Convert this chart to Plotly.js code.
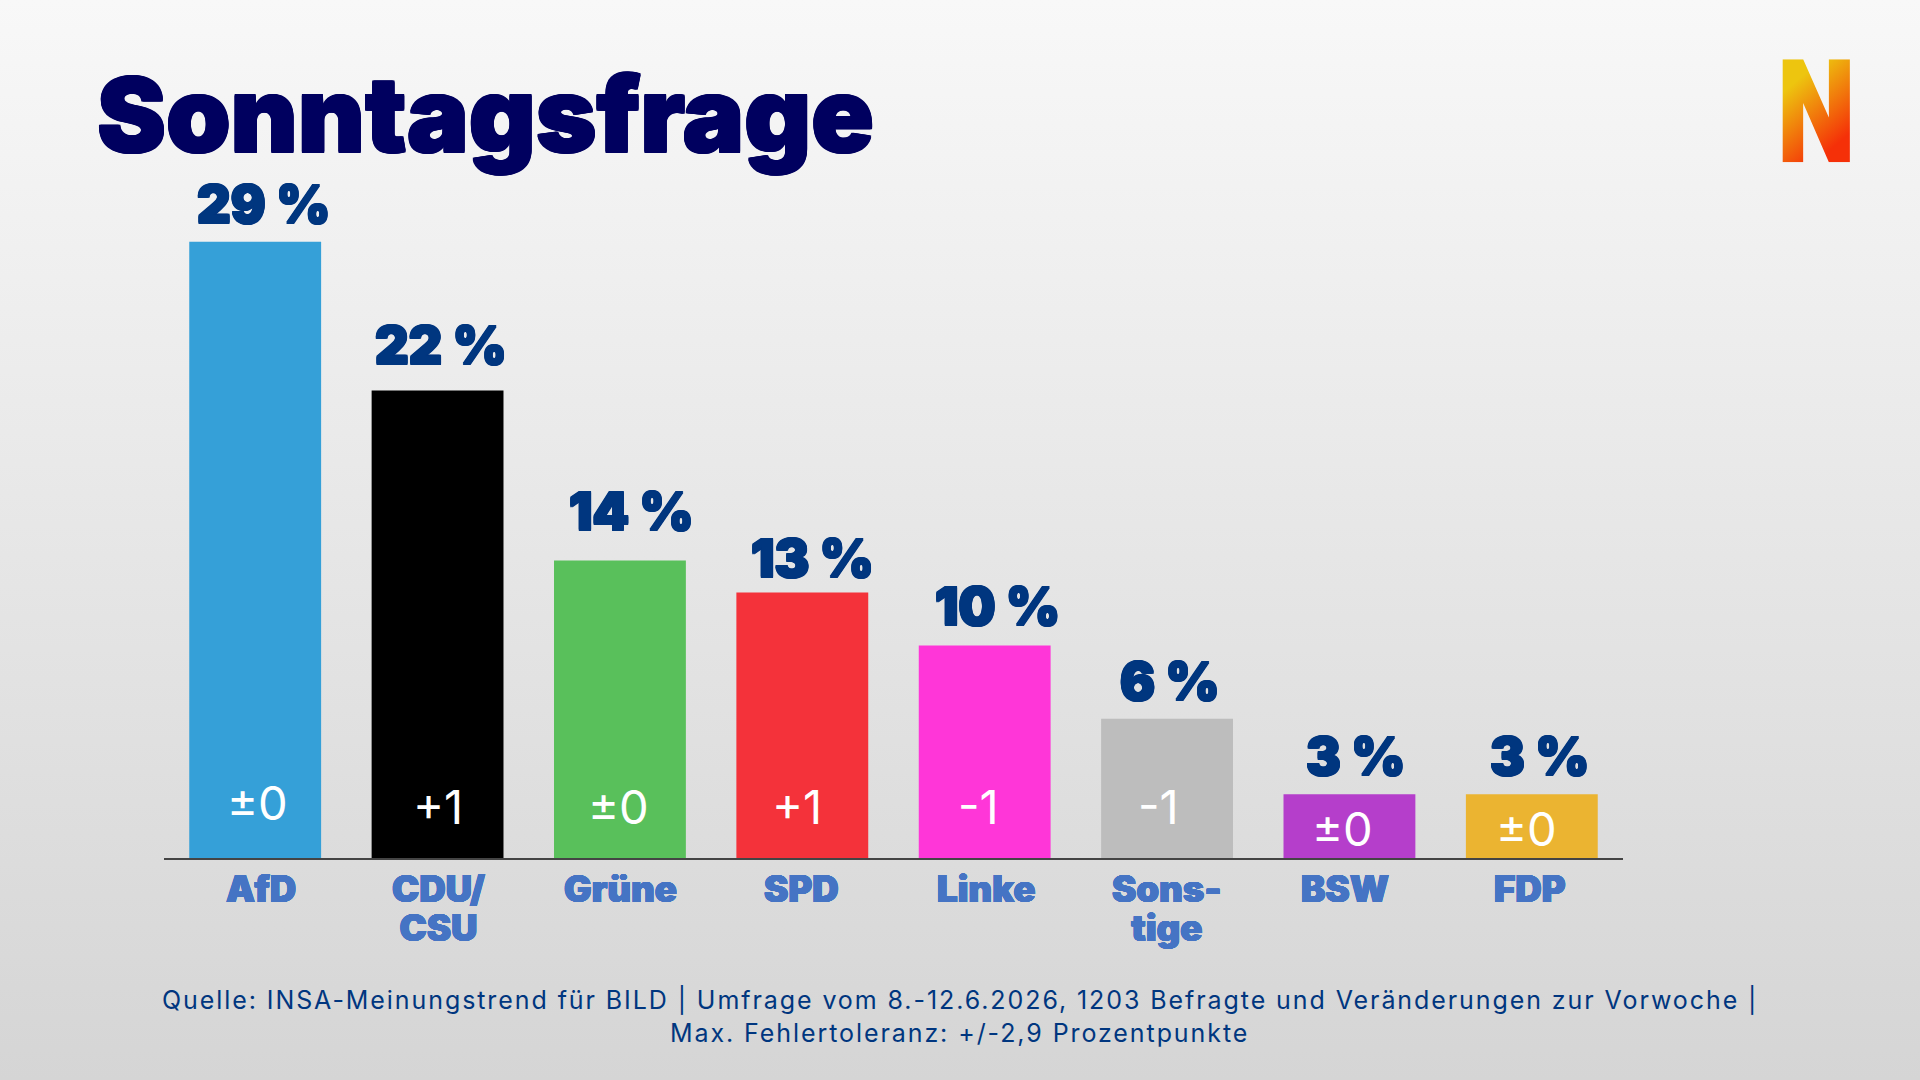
<!DOCTYPE html>
<html><head><meta charset="utf-8">
<script src="https://cdn.plot.ly/plotly-3.0.1.min.js"></script>
<style>
html,body{margin:0;padding:0;width:1920px;height:1080px;overflow:hidden;background:linear-gradient(180deg,#f8f8f8 0%,#d5d5d5 100%);}
#chart{width:1920px;height:1080px;}
text[style*="font-size: 25px"]{letter-spacing:1.92px;}
</style></head><body><div id="chart"></div>
<script>
const categories = ['AfD','CDU/CSU','Grüne','SPD','Linke','Sonstige','BSW','FDP'];
const categoryLabels = ['AfD','CDU/<br>CSU','Grüne','SPD','Linke','Sons-<br>tige','BSW','FDP'];
const barValues = [29,22,14,12.5,10,6.55,3,3];
const valueLabels = ['29 %','22 %','14 %','13 %','10 %','6 %','3 %','3 %'];
const changes = ['±0','+1','±0','+1','-1','-1','±0','±0'];
const barColors = ['#35a0d8','#000000','#59c05b','#f4323a','#ff36d8','#bdbdbd','#b53ecb','#ebb431'];
const titleText = 'Sonntagsfrage';
const sourceLines = ['Quelle: INSA-Meinungstrend für BILD | Umfrage vom 8.-12.6.2026, 1203 Befragte und Veränderungen zur Vorwoche |','Max. Fehlertoleranz: +/-2,9 Prozentpunkte'];

const W=1920,H=1080,L=164,R=1623.5,B=858.5,YMAX=36,UNIT=21.27,T=B-YMAX*UNIT;
const heavy='Inter',NAVY='#00005f',BLUE='#00367f',LBLUE='#4574c4';
const thick=(c,d)=>`${d}px 0 0 ${c}, -${d}px 0 0 ${c}, 0 ${d}px 0 ${c}, 0 -${d}px 0 ${c}, ${d}px ${d}px 0 ${c}, -${d}px -${d}px 0 ${c}, ${d}px -${d}px 0 ${c}, -${d}px ${d}px 0 ${c}`;
const valDx=[8,3,12,10,13,3,6,8], valDy=[37,45,49,34,39,37,38,38];
const chgDx=[2,0,-1,-5,-6,-9,-7,-5], chgYTop=[803,807,807,807,807,807,829,829];
const catDx=[6,1,1,-1,2,0,-4,-2];
const annotations=[];
categories.forEach((c,i)=>{
  annotations.push({x:c,y:barValues[i],xref:'x',yref:'y',text:valueLabels[i],showarrow:false,xanchor:'center',yanchor:'middle',
    xshift:valDx[i],yshift:valDy[i],font:{family:heavy,size:52,weight:900,color:BLUE,shadow:thick(BLUE,0.9)}});
  annotations.push({x:c,y:0,xref:'x',yref:'y',text:changes[i],showarrow:false,xanchor:'center',yanchor:'middle',
    xshift:chgDx[i],yshift:B-chgYTop[i],font:{family:'Inter',size:47,color:'#ffffff'}});
  annotations.push({x:c,y:0,xref:'x',yref:'y',text:categoryLabels[i],showarrow:false,xanchor:'center',yanchor:'top',align:'center',
    xshift:catDx[i],yshift:-7,font:{family:heavy,size:36.5,weight:900,color:LBLUE,shadow:thick(LBLUE,0.4)}});
});
sourceLines.forEach((t,j)=>annotations.push({xref:'paper',yref:'paper',x:(960-L)/(R-L),y:(B-(1000.5+33*j))/(B-T),text:t,showarrow:false,
  xanchor:'center',yanchor:'middle',font:{family:'Inter',size:25,color:BLUE}}));
const logo='data:image/svg+xml;utf8,'+encodeURIComponent('<svg xmlns="http://www.w3.org/2000/svg" viewBox="0 0 202 309" preserveAspectRatio="none"><defs><linearGradient id="g" gradientUnits="userSpaceOnUse" x1="30" y1="75" x2="175" y2="245"><stop offset="0" stop-color="#edc50f"/><stop offset="1" stop-color="#f53008"/></linearGradient></defs><path fill="url(#g)" d="M0 0H62L139 175V0H202V309H139L62 131V309H0Z"/></svg>');
Plotly.newPlot('chart',[{type:'bar',x:categories,y:barValues,marker:{color:barColors,line:{width:0}},hoverinfo:'skip'}],{
  width:W,height:H,margin:{l:L,r:W-R,t:T,b:H-B,pad:0},paper_bgcolor:'rgba(0,0,0,0)',plot_bgcolor:'rgba(0,0,0,0)',bargap:0.277,showlegend:false,
  title:{text:titleText,x:97/W,xanchor:'left',y:1-116/H,yanchor:'middle',font:{family:heavy,size:103.5,weight:900,color:NAVY,shadow:thick(NAVY,1)}},
  xaxis:{type:'category',range:[-0.5,7.5],showline:true,linecolor:'#444444',linewidth:2,ticks:'',showticklabels:false,showgrid:false,zeroline:false,layer:'below traces',fixedrange:true},
  yaxis:{range:[0,YMAX],visible:false,showgrid:false,zeroline:false,fixedrange:true},
  annotations,
  images:[{source:logo,xref:'paper',yref:'paper',x:(1783-L)/(R-L),y:(B-59)/(B-T),sizex:67.5/(R-L),sizey:103/(B-T),xanchor:'left',yanchor:'top',sizing:'stretch',layer:'above'}]
},{displayModeBar:false,staticPlot:true}).then(()=>{
  // tighten the two-line category labels to the reference's line spacing
  document.querySelectorAll('.annotation-text tspan.line').forEach(t=>{
    if(parseFloat(t.getAttribute('dy'))>0) t.setAttribute('dy','39px');
  });
});
</script></body></html>
